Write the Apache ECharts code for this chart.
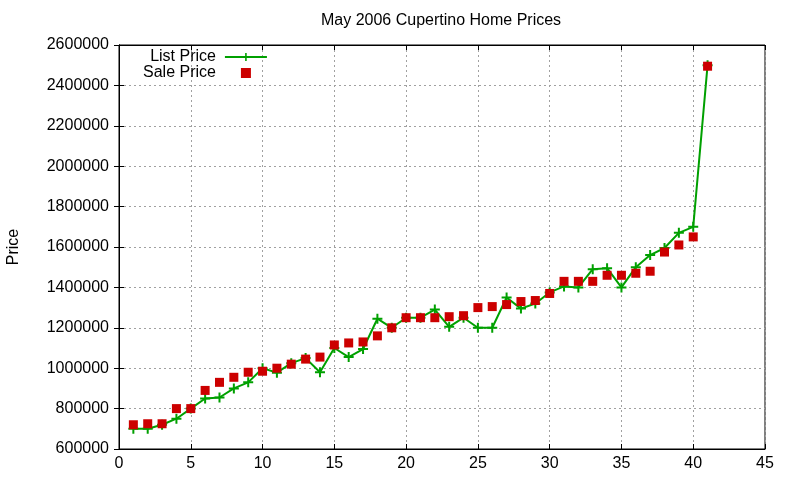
<!DOCTYPE html>
<html style="height: 100%">
    <head>
        <meta charset="utf-8">
    </head>
    <body style="height: 100%; margin: 0; background: #fff">
        <div id="container" style="height: 480px; width: 800px;"></div>
        <script type="text/javascript" src="https://cdn.jsdelivr.net/npm/echarts@6/dist/echarts.min.js"></script>
        <script type="text/javascript">
// house number along the x axis, prices
const houses = [1, 2, 3, 4, 5, 6, 7, 8, 9, 10, 11, 12, 13, 14, 15, 16, 17, 18, 19, 20,
    21, 22, 23, 24, 25, 26, 27, 28, 29, 30, 31, 32, 33, 34, 35, 36, 37, 38, 39, 40, 41];
const listPrice = [700000, 700000, 720000, 750000, 800000, 850000, 855000, 900000, 930000, 1000000,
    978000, 1025000, 1050000, 980000, 1100000, 1055000, 1095000, 1245000, 1200000, 1250000,
    1250000, 1290000, 1205000, 1250000, 1200000, 1200000, 1350000, 1295000, 1320000, 1375000,
    1405000, 1400000, 1490000, 1495000, 1400000, 1500000, 1560000, 1595000, 1670000, 1700000,
    2500000];
const salePrice = [720000, 725000, 725000, 800000, 800000, 890000, 930000, 955000, 980000, 985000,
    1000000, 1020000, 1045000, 1055000, 1115000, 1125000, 1130000, 1160000, 1200000, 1250000,
    1250000, 1250000, 1255000, 1260000, 1300000, 1305000, 1315000, 1330000, 1335000, 1370000,
    1430000, 1430000, 1430000, 1460000, 1460000, 1470000, 1480000, 1575000, 1610000, 1650000,
    2495000];

const FONT = 'Liberation Sans';
const plus = 'path://M-1,-5H1V-1H5V1H1V5H-1V1H-5V-1H-1Z';
const square = 'path://M0,0H10V10H0Z';

var myChart = echarts.init(document.getElementById('container'));

function pairs(xs, ys) {
    return xs.map(function (x, i) { return [x, ys[i]]; });
}

var tickIn = { show: true, inside: true, length: 5, lineStyle: { color: '#000' } };
var gridLine = { show: true, lineStyle: { color: '#a0a0a0', type: [2, 3], width: 1 } };

var option = {
    backgroundColor: '#fff',
    animation: false,
    textStyle: { fontFamily: FONT },
    title: {
        text: 'May 2006 Cupertino Home Prices',
        left: 316,
        top: 8,
        textStyle: { fontFamily: FONT, fontSize: 16, fontWeight: 'normal', color: '#000' }
    },
    legend: {
        orient: 'vertical',
        left: 138,
        top: 44,
        align: 'right',
        itemWidth: 42,
        itemHeight: 10,
        itemGap: 0,
        textStyle: { fontFamily: FONT, fontSize: 16, color: '#000', padding: [0, 4, 0, 0] },
        data: [
            { name: 'List Price' },
            { name: 'Sale Price', icon: square }
        ]
    },
    grid: {
        left: 119,
        right: 35,
        top: 45,
        bottom: 31,
        outerBoundsMode: 'none',
        containLabel: false,
        show: true,
        borderColor: '#000',
        borderWidth: 1
    },
    xAxis: [
        {
            type: 'value',
            min: 0,
            max: 45,
            interval: 5,
            axisLine: { show: true, lineStyle: { color: '#000' } },
            axisTick: tickIn,
            splitLine: gridLine,
            axisLabel: { fontFamily: FONT, fontSize: 16, color: '#000', margin: 7 }
        },
        {
            type: 'value',
            position: 'top',
            min: 0,
            max: 45,
            interval: 5,
            axisLine: { show: true, lineStyle: { color: '#000' } },
            axisTick: tickIn,
            splitLine: { show: false },
            axisLabel: { show: false }
        }
    ],
    yAxis: [
        {
            type: 'value',
            min: 600000,
            max: 2600000,
            interval: 200000,
            name: 'Price',
            nameLocation: 'middle',
            nameGap: 97,
            nameTextStyle: { fontFamily: FONT, fontSize: 16, color: '#000' },
            axisLine: { show: true, lineStyle: { color: '#000' } },
            axisTick: tickIn,
            splitLine: gridLine,
            axisLabel: {
                fontFamily: FONT, fontSize: 16, color: '#000', margin: 10,
                formatter: function (v) { return String(v); }
            }
        },
        {
            type: 'value',
            position: 'right',
            min: 600000,
            max: 2600000,
            interval: 200000,
            axisLine: { show: true, lineStyle: { color: '#000' } },
            axisTick: tickIn,
            splitLine: { show: false },
            axisLabel: { show: false }
        }
    ],
    series: [
        {
            name: 'List Price',
            type: 'line',
            data: pairs(houses, listPrice),
            symbol: plus,
            symbolSize: 10,
            showAllSymbol: true,
            lineStyle: { color: '#00a000', width: 2 },
            itemStyle: { color: '#00a000' },
            z: 2
        },
        {
            name: 'Sale Price',
            type: 'scatter',
            data: pairs(houses, salePrice),
            symbol: square,
            symbolSize: 9,
            itemStyle: { color: '#cc0000', opacity: 1 },
            z: 3
        }
    ]
};

myChart.setOption(option);
        </script>
    </body>
</html>
